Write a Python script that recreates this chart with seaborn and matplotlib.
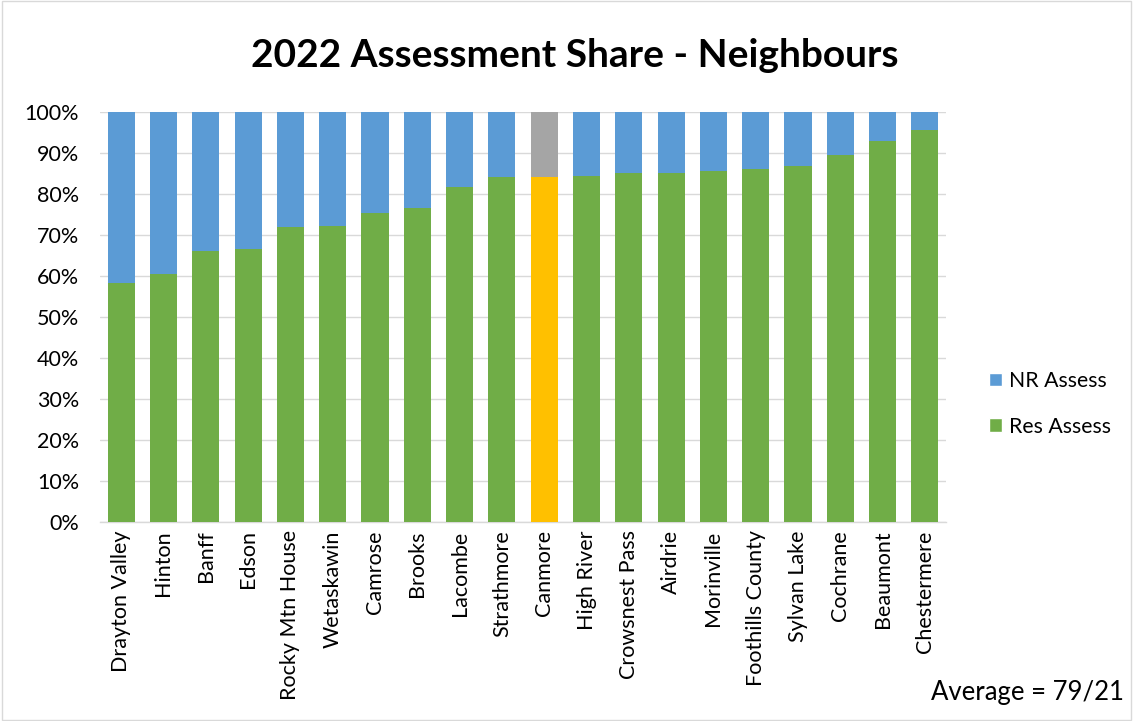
import matplotlib
matplotlib.use("Agg")
import matplotlib.pyplot as plt
import seaborn as sns
import pandas as pd
from matplotlib.patches import Patch, Rectangle

municipalities = ["Drayton Valley", "Hinton", "Banff", "Edson", "Rocky Mtn House",
                  "Wetaskawin", "Camrose", "Brooks", "Lacombe", "Strathmore",
                  "Canmore", "High River", "Crowsnest Pass", "Airdrie", "Morinville",
                  "Foothills County", "Sylvan Lake", "Cochrane", "Beaumont", "Chestermere"]
res_assess = [58.3, 60.6, 66.0, 66.7, 72.0, 72.3, 75.4, 76.7, 81.6, 84.1,
              84.1, 84.5, 85.0, 85.0, 85.6, 86.0, 86.9, 89.6, 92.9, 95.7]
nr_assess = [round(100 - r, 1) for r in res_assess]
highlight = "Canmore"
y_ticks = list(range(0, 101, 10))

BLUE, GREEN = "#5B9BD5", "#70AD47"
GREY, GOLD = "#A5A5A5", "#FFC000"

df = pd.DataFrame({"muni": municipalities, "res": res_assess, "nr": nr_assess})
df["total"] = df["res"] + df["nr"]

sns.set_theme(style="white")
plt.rcParams["font.family"] = ["Lato", "DejaVu Sans"]
plt.rcParams["text.color"] = "black"
plt.rcParams["xtick.color"] = "black"
plt.rcParams["ytick.color"] = "black"

fig = plt.figure(figsize=(11.33, 7.21), dpi=100)
fig.patches.append(Rectangle((0.002, 0.002), 0.996, 0.996, transform=fig.transFigure,
                             fill=False, edgecolor="#d9d9d9", linewidth=1.0))
ax = fig.add_axes([0.0883, 0.276, 0.7467, 0.5687])

nr_palette = {m: (GREY if m == highlight else BLUE) for m in municipalities}
res_palette = {m: (GOLD if m == highlight else GREEN) for m in municipalities}

# stacked: full-height non-residential layer underneath, residential on top
sns.barplot(data=df, x="muni", y="total", hue="muni", palette=nr_palette,
            legend=False, width=0.64, saturation=1, linewidth=0, ax=ax, zorder=2)
sns.barplot(data=df, x="muni", y="res", hue="muni", palette=res_palette,
            legend=False, width=0.64, saturation=1, linewidth=0, ax=ax, zorder=3)

ax.set_ylim(0, 100)
ax.set_xlim(-0.5, len(municipalities) - 0.5)
ax.set_yticks(y_ticks)
ax.set_yticklabels([f"{t}%" for t in y_ticks], fontsize=15.5)
ax.tick_params(axis="x", labelrotation=90, labelsize=15.5, length=0, pad=6)
ax.tick_params(axis="y", length=0, pad=15)
ax.yaxis.grid(True, color="#d9d9d9", linewidth=1.0, zorder=0)
ax.set_axisbelow(True)
ax.set_xlabel("")
ax.set_ylabel("")
for side in ["left", "right", "top"]:
    ax.spines[side].set_visible(False)
ax.spines["bottom"].set_color("#d9d9d9")
ax.spines["bottom"].set_linewidth(1.0)

fig.text(0.507, 0.923, "2022 Assessment Share - Neighbours", ha="center", va="center",
         fontsize=28, fontweight="bold")

handles = [Patch(facecolor=BLUE, label="NR Assess"),
           Patch(facecolor=GREEN, label="Res Assess")]
fig.legend(handles=handles, loc="center left", bbox_to_anchor=(0.856, 0.440),
           frameon=False, fontsize=15.3, handlelength=0.6, handleheight=0.6,
           handletextpad=0.35, labelspacing=1.2)

fig.text(0.992, 0.040, "Average = 79/21", ha="right", va="center", fontsize=18.5)

fig.savefig("out.png", dpi=100)
